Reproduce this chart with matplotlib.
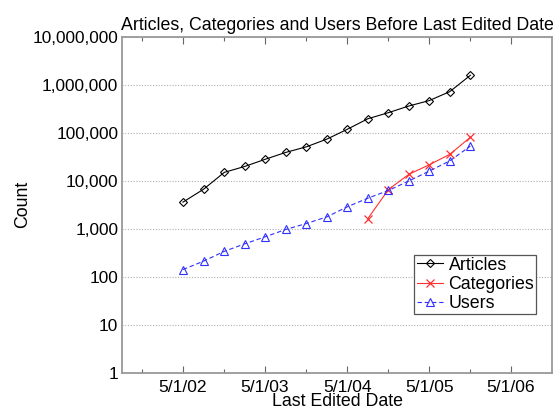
import datetime as dt

import matplotlib.dates as mdates
import matplotlib.pyplot as plt
from matplotlib.ticker import FixedLocator, FuncFormatter

plt.rcParams["font.family"] = ["Liberation Sans", "DejaVu Sans"]

# quarterly snapshots, 5/1/02 .. 11/1/05
dates = [
    dt.date(2002, 5, 1), dt.date(2002, 8, 1), dt.date(2002, 11, 1),
    dt.date(2003, 2, 1), dt.date(2003, 5, 1), dt.date(2003, 8, 1), dt.date(2003, 11, 1),
    dt.date(2004, 2, 1), dt.date(2004, 5, 1), dt.date(2004, 8, 1), dt.date(2004, 11, 1),
    dt.date(2005, 2, 1), dt.date(2005, 5, 1), dt.date(2005, 8, 1), dt.date(2005, 11, 1),
]
articles = [3600, 6700, 15000, 20000, 28000, 39000, 51000, 74000,
            118000, 196000, 263000, 363000, 468000, 720000, 1580000]
users = [142, 213, 340, 490, 680, 970, 1290, 1780,
         2870, 4350, 6300, 10000, 15900, 26000, 53000]
category_dates = dates[9:]
categories = [1630, 6600, 13800, 21500, 35600, 81000]

fig = plt.figure(figsize=(5.58, 4.13), dpi=100)
ax = fig.add_axes([0.218, 0.097, 0.772, 0.814])

ax.plot(dates, articles, color="black", linewidth=0.8, marker="D",
        markersize=4.1, markerfacecolor="none", markeredgewidth=0.8, label="Articles")
ax.plot(category_dates, categories, color="#ff3030", linewidth=0.8, marker="x",
        markersize=6, markeredgewidth=0.9, label="Categories")
ax.plot(dates, users, color="#3030ff", linewidth=0.8, linestyle=(0, (4, 2.5)),
        marker="^", markersize=6, markerfacecolor="none", markeredgewidth=0.8,
        label="Users")

ax.set_yscale("log")
ax.set_ylim(1, 1e7)
ax.yaxis.set_major_locator(FixedLocator([10 ** k for k in range(8)]))
ax.yaxis.set_minor_locator(FixedLocator([]))
ax.yaxis.set_major_formatter(FuncFormatter(lambda v, _: f"{int(round(v)):,}"))
ax.grid(axis="y", color="#b0b0b0", linestyle=(0, (1, 1.5)), linewidth=0.8)

ax.set_xlim(mdates.date2num(dt.date(2001, 8, 1)), mdates.date2num(dt.date(2006, 11, 1)))
major = [dt.date(y, 5, 1) for y in range(2002, 2007)]
minor = [dt.date(y, 11, 1) for y in range(2001, 2006)]
ax.xaxis.set_major_locator(FixedLocator(mdates.date2num(major)))
ax.xaxis.set_minor_locator(FixedLocator(mdates.date2num(minor)))
ax.xaxis.set_major_formatter(FuncFormatter(
    lambda v, _: "{d.month}/{d.day}/{y:02d}".format(d=mdates.num2date(v), y=mdates.num2date(v).year % 100)))

for side in ax.spines.values():
    side.set_color("#999999")
    side.set_linewidth(1.3)
ax.tick_params(axis="x", which="both", direction="in", top=True, color="#666666",
               labelsize=12.6, pad=5)
ax.tick_params(axis="x", which="major", length=5, width=0.8)
ax.tick_params(axis="x", which="minor", length=3, width=0.8)
ax.tick_params(axis="y", which="major", length=0, labelsize=12.4, pad=2.5)

ax.set_title("Articles, Categories and Users Before Last Edited Date", fontsize=12.8, pad=5)
ax.set_xlabel("Last Edited Date", fontsize=12.8, labelpad=-1)
ax.set_ylabel("Count", fontsize=12.8, labelpad=1)

leg = ax.legend(loc="lower right", bbox_to_anchor=(0.963, 0.175), borderaxespad=0,
                fontsize=12.8, handlelength=1.5, handletextpad=0.3, labelspacing=0.12,
                borderpad=0.12, fancybox=False, framealpha=1)
leg.get_frame().set_edgecolor("#555555")
leg.get_frame().set_linewidth(0.9)

fig.savefig("out.png", dpi=100)
